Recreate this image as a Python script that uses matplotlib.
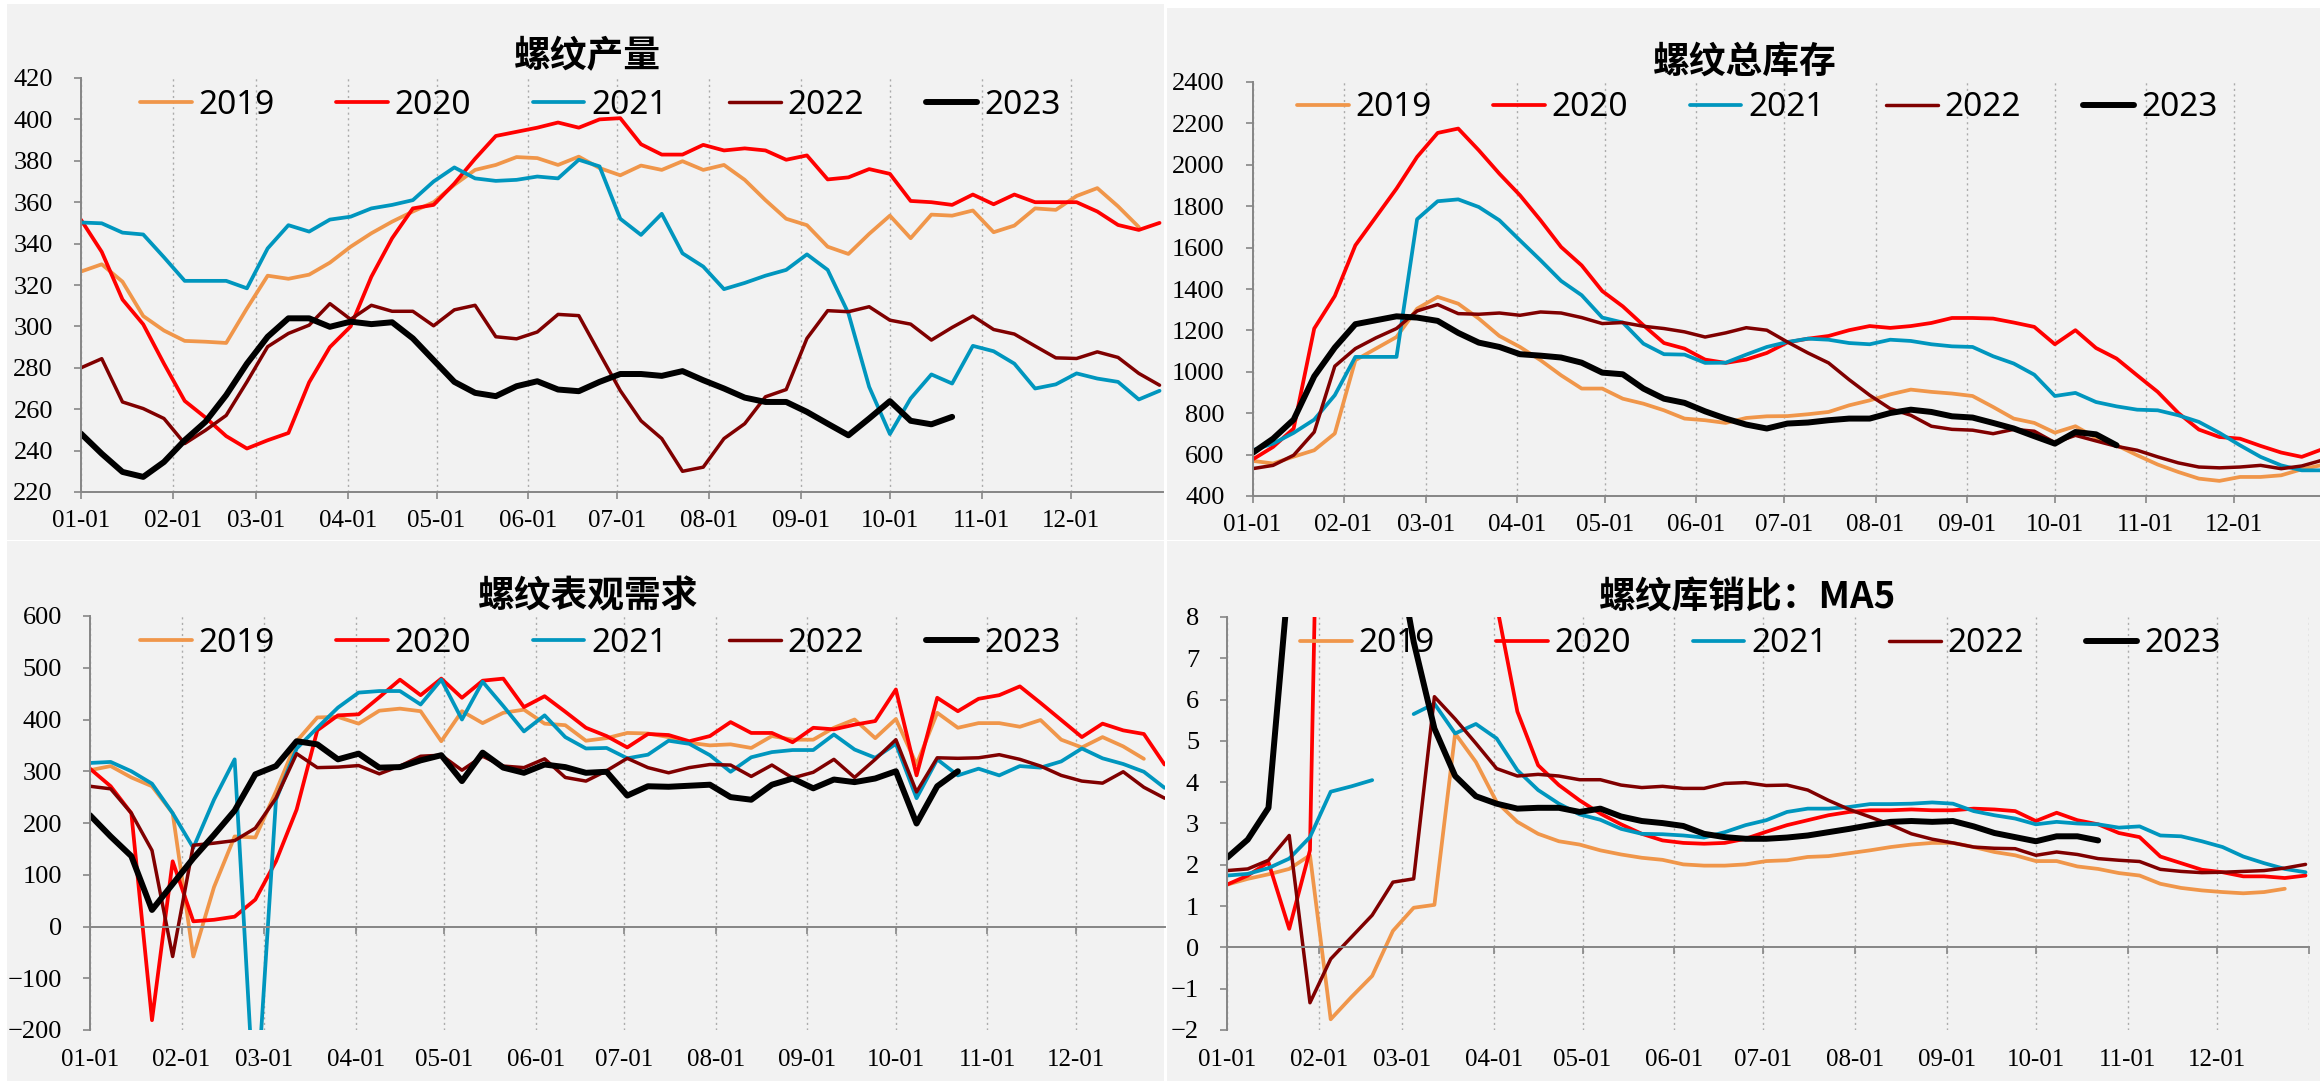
"""
Rebar weekly dashboard: production, total stock, apparent demand, stock/sales ratio.
Four panels, one line per year, x axis = day of year (weekly points).
"""
import numpy as np
import matplotlib
matplotlib.use("Agg")
import matplotlib.pyplot as plt
from matplotlib.patches import Rectangle

W, H, DPI = 2320, 1081, 100

years = ["2019", "2020", "2021", "2022", "2023"]
month_days = [0, 31, 59, 90, 120, 151, 181, 212, 243, 273, 304, 334]
month_labels = ["01-01", "02-01", "03-01", "04-01", "05-01", "06-01",
                "07-01", "08-01", "09-01", "10-01", "11-01", "12-01"]
WEEK = 7  # days between points

# ── 螺纹产量 ──────────────────────────────────────────────────────────────
prod_2019 = [326.5, 330, 321.6, 305, 298, 293, 292.6, 292, 308.7, 324.5,
             323, 325, 330.8, 338.5, 345, 350.6, 355.5, 360, 368.4, 375.6,
             378, 381.8, 381.3, 378, 382, 376.5, 373, 377.7, 375.6, 379.8,
             375.6, 378, 370.8, 361, 352, 348.9, 338.5, 335, 344.7, 353.5,
             342.6, 354, 353.5, 356, 345.5, 348.7, 357, 356.3, 363, 366.8, 358, 348]
prod_2020 = [351.5, 336, 313, 301, 282, 264, 256, 247, 241, 245,
             248.5, 273, 290, 300, 324, 342.6, 357, 358.7, 369, 381,
             392, 394, 396, 398.5, 396, 400, 400.6, 388, 383, 383,
             387.7, 385, 386, 385, 380.5, 382.6, 371, 372, 376, 373.7,
             360.6, 360, 358.7, 363.7, 359, 363.7, 360, 360, 360, 355.5, 349, 346.6, 350]
prod_2021 = [350.2, 349.8, 345.3, 344.4, 333.4, 322, 322, 322, 318.4, 337.7,
             348.9, 345.8, 351.6, 353, 357, 358.7, 361, 370, 376.8, 371.5,
             370.3, 370.8, 372.4, 371.5, 380.5, 377.3, 352, 344.2, 354.4, 335.3,
             328.9, 318, 321, 324.5, 327.3, 334.8, 327.3, 306.3, 270.8, 248,
             265.2, 276.8, 272.4, 290.6, 288, 282, 270, 272, 277.3, 274.8, 273.2, 264.7, 268.9]
prod_2022 = [280, 284.4, 263.5, 260.3, 255.5, 243.4, 249.8, 257, 273.2, 290.2,
             296.6, 300.6, 311, 303.4, 310.2, 307.3, 307.3, 300.3, 308, 310.2,
             295, 294, 297.3, 305.8, 305.2, 287, 269, 254.4, 245.8, 230,
             232, 245.8, 253, 266, 269.5, 294.2, 307.6, 307.1, 309.5, 303,
             301.1, 293.4, 299.5, 305, 298.5, 296.3, 290.5, 284.8, 284.5, 287.7, 285, 277.3, 271.6]
prod_2023 = [248.2, 238.5, 229.7, 227.3, 234.5, 245, 253.9, 266.8, 282, 295,
             303.9, 303.9, 299.8, 302.3, 301.1, 302, 294.2, 283.7, 273.2, 267.9,
             266.3, 271.1, 273.5, 269.5, 268.7, 273.2, 277, 277, 276.1, 278.4,
             274, 270, 265.6, 263.5, 263.5, 258.7, 253, 247.4, 255.5, 263.9,
             254.4, 252.7, 256.3]

# ── 螺纹总库存 ────────────────────────────────────────────────────────────
stock_2019 = [570, 557, 590, 621, 702, 1056, 1112, 1168, 1305, 1362,
              1329, 1257, 1173, 1120, 1056, 983, 919, 919, 870, 846,
              814, 774, 766, 753, 777, 785, 786, 795, 806, 838,
              862, 891, 914, 903, 895, 883, 830, 774, 753, 706,
              737, 681, 645, 597, 552, 516, 484, 473, 492, 492, 500, 529, 550]
stock_2020 = [576, 637, 726, 1209, 1366, 1611, 1748, 1885, 2038, 2154,
              2175, 2070, 1957, 1853, 1732, 1603, 1514, 1390, 1316, 1225,
              1139, 1112, 1059, 1043, 1059, 1091, 1142, 1160, 1173, 1201,
              1221, 1212, 1221, 1236, 1260, 1260, 1257, 1238, 1217, 1133,
              1201, 1115, 1064, 983, 903, 801, 721, 685, 677, 642, 610, 589, 626]
stock_2021 = [621, 653, 705, 769, 887, 1072, 1072, 1072, 1737, 1824,
              1833, 1796, 1732, 1635, 1539, 1439, 1370, 1262, 1238, 1136,
              1085, 1083, 1043, 1044, 1083, 1120, 1144, 1160, 1155, 1139,
              1133, 1155, 1149, 1133, 1123, 1120, 1075, 1040, 986, 883,
              898, 854, 833, 817, 814, 790, 758, 705, 645, 589, 548, 524, 524]
stock_2022 = [532, 548, 597, 709, 1027, 1112, 1164, 1209, 1294, 1325,
              1281, 1278, 1284, 1273, 1289, 1284, 1262, 1233, 1238, 1220,
              1209, 1193, 1168, 1188, 1213, 1201, 1144, 1091, 1043, 962,
              887, 822, 790, 737, 722, 718, 701, 722, 713, 658,
              693, 666, 640, 621, 589, 560, 540, 536, 540, 548, 532, 545, 573]
stock_2023 = [608, 677, 769, 978, 1117, 1230, 1249, 1268, 1262, 1246,
              1188, 1141, 1120, 1085, 1078, 1069, 1044, 996, 988, 919,
              870, 850, 809, 774, 745, 726, 750, 755, 766, 774,
              774, 801, 817, 806, 785, 779, 753, 726, 689, 653,
              709, 698, 645]

# ── 螺纹表观需求 ──────────────────────────────────────────────────────────
demand_2019 = [302, 310, 288, 271, 219, -58, 76, 174, 172, 261,
               358, 404, 405, 392, 417, 421, 416, 358, 416, 393,
               413, 419, 392, 389, 359, 364, 374, 373, 366, 355,
               350, 352, 345, 368, 361, 361, 384, 400, 364, 401,
               313, 413, 384, 393, 393, 386, 399, 361, 346, 366, 348, 324]
demand_2020 = [305, 271, 219, -181, 126, 10, 13, 19, 52, 126,
               226, 379, 408, 410, 443, 477, 447, 479, 442, 475,
               479, 424, 445, 415, 384, 368, 346, 372, 370, 358,
               368, 395, 374, 374, 356, 384, 381, 390, 397, 458,
               292, 442, 416, 440, 447, 464, 432, 399, 366, 392, 379, 372, 313]
demand_2021 = [316, 318, 300, 276, 219, 152, 245, 323, -380, 245,
               344, 384, 423, 452, 455, 455, 429, 477, 400, 473,
               426, 377, 408, 366, 344, 345, 325, 332, 359, 353,
               331, 299, 327, 337, 341, 341, 371, 342, 326, 353,
               248, 323, 292, 305, 292, 310, 307, 319, 344, 325, 314, 299, 268]
demand_2022 = [271, 266, 219, 147, -58, 157, 161, 166, 190, 248,
               334, 307, 308, 311, 295, 310, 329, 331, 302, 329,
               310, 307, 324, 288, 281, 301, 325, 307, 297, 307,
               313, 312, 290, 312, 287, 298, 323, 288, 323, 361,
               260, 326, 325, 326, 332, 323, 310, 292, 281, 277, 299, 269, 248]
demand_2023 = [215, 174, 136, 32, 82, 132, 177, 224, 294, 310,
               358, 352, 323, 334, 307, 308, 321, 331, 281, 336,
               307, 297, 313, 308, 297, 299, 253, 271, 270, 272,
               274, 250, 245, 274, 286, 267, 284, 279, 286, 300,
               199, 271, 300]

# ── 螺纹库销比：MA5 ───────────────────────────────────────────────────────
ratio_2019 = [1.52, 1.66, 1.77, 1.90, 2.23, -1.74, -1.2, -0.69, 0.40, 0.96,
              1.03, 5.18, 4.49, 3.52, 3.04, 2.75, 2.57, 2.49, 2.35, 2.25,
              2.17, 2.12, 2.01, 1.98, 1.98, 2.01, 2.09, 2.11, 2.19, 2.21,
              2.28, 2.35, 2.43, 2.49, 2.53, 2.53, 2.43, 2.31, 2.23, 2.09,
              2.09, 1.96, 1.90, 1.80, 1.74, 1.54, 1.44, 1.38, 1.34, 1.31, 1.34, 1.42]
ratio_2020 = [1.52, 1.74, 2.06, 0.45, 2.35, 28, 60, 90, 60, 30,
              15, 10, 9, 8.3, 5.71, 4.41, 3.93, 3.56, 3.24, 2.98,
              2.75, 2.59, 2.53, 2.51, 2.53, 2.63, 2.8, 2.96, 3.08, 3.20,
              3.28, 3.32, 3.32, 3.34, 3.32, 3.32, 3.36, 3.34, 3.30, 3.06,
              3.26, 3.08, 2.98, 2.77, 2.67, 2.20, 2.04, 1.88, 1.82, 1.72, 1.72, 1.68, 1.74]
ratio_2021 = [1.74, 1.78, 1.92, 2.15, 2.67, 3.77, 3.90, 4.05, np.nan, 5.65,
              5.90, 5.18, 5.41, 5.06, 4.29, 3.81, 3.48, 3.22, 3.09, 2.87,
              2.75, 2.74, 2.71, 2.66, 2.79, 2.96, 3.08, 3.28, 3.36, 3.36,
              3.40, 3.47, 3.47, 3.48, 3.51, 3.48, 3.30, 3.20, 3.12, 2.98,
              3.04, 3.00, 2.98, 2.90, 2.93, 2.71, 2.69, 2.57, 2.43, 2.20, 2.04, 1.90, 1.82]
ratio_2022 = [1.86, 1.90, 2.11, 2.71, -1.34, -0.28, 0.25, 0.78, 1.58, 1.66,
              6.07, 5.53, 4.94, 4.33, 4.15, 4.19, 4.15, 4.06, 4.06, 3.93,
              3.87, 3.90, 3.85, 3.85, 3.97, 3.99, 3.92, 3.93, 3.81, 3.56,
              3.34, 3.16, 2.97, 2.75, 2.62, 2.53, 2.43, 2.40, 2.39, 2.23,
              2.31, 2.25, 2.15, 2.11, 2.08, 1.89, 1.84, 1.81, 1.82, 1.84, 1.86, 1.92, 2.01]
ratio_2023 = [2.17, 2.61, 3.38, 9.1, 15, 18, 16, 13, 10.2, 7.4,
              5.30, 4.15, 3.66, 3.48, 3.36, 3.38, 3.38, 3.28, 3.36, 3.17,
              3.06, 3.01, 2.94, 2.75, 2.67, 2.63, 2.63, 2.66, 2.71, 2.79,
              2.87, 2.96, 3.04, 3.06, 3.04, 3.06, 2.93, 2.77, 2.67, 2.57,
              2.69, 2.69, 2.59]

STYLE = {
    "2019": dict(color="#F0964A", lw=2.7),
    "2020": dict(color="#FF0000", lw=2.7),
    "2021": dict(color="#0096BE", lw=2.7),
    "2022": dict(color="#800000", lw=2.5),
    "2023": dict(color="#000000", lw=4.3),
}
GRAY = "#868686"
BG = "#F2F2F2"
TICK_FONT = "Liberation Serif"


def pt(px):
    return px * 72 / DPI


def px_axes(fig, left, top, right, bottom):
    return fig.add_axes([left / W, 1 - bottom / H, (right - left) / W, (bottom - top) / H])


def draw_panel(fig, box, xmax, title, title_xy, series, ylim, ystep,
               legend_xy, zero_axis=False, end_tick=False):
    ax = px_axes(fig, *box)
    ax.set_facecolor("none")

    for yr, vals in zip(years, series):
        x = np.arange(len(vals)) * WEEK
        ax.plot(x, vals, label=yr, solid_capstyle="round",
                solid_joinstyle="round", **STYLE[yr])

    ax.set_xlim(0, xmax)
    ax.set_ylim(*ylim)
    ax.set_yticks(np.arange(ylim[0], ylim[1] + ystep / 2, ystep))

    ticks = list(month_days) + ([365] if end_tick else [])
    labels = list(month_labels) + ([""] if end_tick else [])
    ax.set_xticks(ticks)
    ax.grid(axis="x", color="#ABABAB", lw=1.0, ls=(0, (1.5, 2.5)))
    ax.set_axisbelow(True)

    for side in ("top", "right"):
        ax.spines[side].set_visible(False)
    for side in ("left", "bottom"):
        ax.spines[side].set_color(GRAY)
        ax.spines[side].set_linewidth(1.4)

    ax.tick_params(axis="y", direction="out", length=pt(7), width=1.2,
                   color=GRAY, pad=pt(21), labelsize=19)
    ax.tick_params(axis="x", direction="out", length=pt(7), width=1.2,
                   color=GRAY)
    for lab in ax.get_yticklabels():
        lab.set_family(TICK_FONT)

    if zero_axis:
        ax.spines["bottom"].set_position(("data", 0))
        ax.tick_params(axis="x", labelbottom=False)
        sec = ax.secondary_xaxis("bottom")
        sec.set_xticks(ticks, labels)
        sec.tick_params(length=0, pad=pt(19), labelsize=18)
        sec.spines["bottom"].set_visible(False)
        for lab in sec.get_xticklabels():
            lab.set_family(TICK_FONT)
    else:
        ax.set_xticklabels(labels)
        ax.tick_params(axis="x", pad=pt(11), labelsize=18)
        for lab in ax.get_xticklabels():
            lab.set_family(TICK_FONT)

    fig.text(title_xy[0] / W, 1 - title_xy[1] / H, title, ha="center", va="center",
             fontsize=26.5, fontweight=900, family=["Noto Sans CJK SC", "DejaVu Sans"])

    ax.legend(loc="center left", bbox_to_anchor=(legend_xy[0] / W, 1 - legend_xy[1] / H),
              bbox_transform=fig.transFigure, ncol=5, frameon=False,
              prop={"family": "Noto Sans", "size": 24},
              handlelength=1.55, handletextpad=0.2, columnspacing=1.85,
              borderpad=0, borderaxespad=0)
    return ax


fig = plt.figure(figsize=(W / DPI, H / DPI), dpi=DPI, facecolor="white")

# panel backgrounds (each chart sits on its own light-gray card)
for (x0, y0, x1, y1) in [(7, 4, 1164, 540), (1167, 8, 2320, 540),
                         (7, 541, 1164, 1081), (1167, 541, 2320, 1081)]:
    fig.patches.append(Rectangle((x0 / W, 1 - y1 / H), (x1 - x0) / W, (y1 - y0) / H,
                                 transform=fig.transFigure, facecolor=BG,
                                 edgecolor="none", zorder=-1))

draw_panel(fig, (81, 78, 1162.5, 492), 365, "螺纹产量", (587, 57),
           [prod_2019, prod_2020, prod_2021, prod_2022, prod_2023],
           (220, 420), 20, (140, 105))

draw_panel(fig, (1252.5, 82, 2320, 496), (2320 - 1252.5) / 2.939, "螺纹总库存", (1745, 62),
           [stock_2019, stock_2020, stock_2021, stock_2022, stock_2023],
           (400, 2400), 200, (1297, 108))

draw_panel(fig, (90, 616, 1165, 1030), (1165 - 90) / 2.952, "螺纹表观需求", (588, 597),
           [demand_2019, demand_2020, demand_2021, demand_2022, demand_2023],
           (-200, 600), 100, (140, 643), zero_axis=True)

draw_panel(fig, (1227, 617, 2308.5, 1030), 365, "螺纹库销比：MA5", (1748, 597),
           [ratio_2019, ratio_2020, ratio_2021, ratio_2022, ratio_2023],
           (-2, 8), 1, (1300, 644), zero_axis=True, end_tick=True)

fig.savefig("out.png", dpi=DPI, facecolor=fig.get_facecolor())
